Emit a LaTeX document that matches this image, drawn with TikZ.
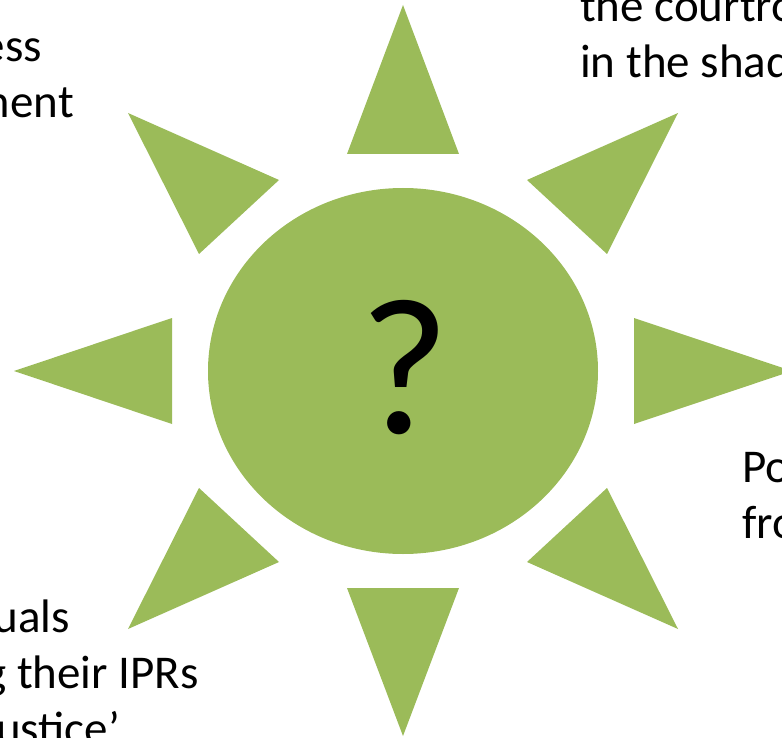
\documentclass[tikz,border=0pt]{standalone}
\usepackage{fontspec}
\setmainfont{Carlito}
\usetikzlibrary{shapes.geometric}
\definecolor{sungreen}{HTML}{9BBB59}
\begin{document}
\begin{tikzpicture}[x=1pt,y=-1pt,
  ray/.style={fill=sungreen,draw=none},
  lbl/.style={inner sep=0pt,font=\fontsize{47}{56}\selectfont,text=black},
  core/.style={ellipse,fill=sungreen,draw=none,minimum width=390pt,minimum height=366pt,inner sep=0pt}]
\useasboundingbox (0,0) rectangle (782,738);
\clip (0,0) rectangle (782,738);
% rays
\fill[ray] (403,5) -- (459,154) -- (347,154) -- cycle;
\fill[ray] (403,736) -- (459,588) -- (347,588) -- cycle;
\fill[ray] (14,371) -- (172,318) -- (172,424) -- cycle;
\fill[ray] (792,371) -- (634,318) -- (634,424) -- cycle;
\fill[ray] (128,113) -- (279,180) -- (199,254) -- cycle;
\fill[ray] (678,113) -- (527,180) -- (607,254) -- cycle;
\fill[ray] (128,629) -- (279,562) -- (199,488) -- cycle;
\fill[ray] (678,629) -- (527,562) -- (607,488) -- cycle;
% centre
\node[core] (sun) at (403,371) {};
\node[inner sep=0pt,anchor=base,font=\fontsize{195}{200}\selectfont] (q) at (405,433) {?};
% texts
\node[lbl,anchor=base east] (tl1) at (42,62) {ess};
\node[lbl,anchor=base east] (tl2) at (74,118) {ment};
\node[lbl,anchor=base west] (tr1) at (580,22) {the courtro};
\node[lbl,anchor=base west] (tr2) at (580,78) {in the shad};
\node[lbl,anchor=base west] (r1) at (742,482) {Po};
\node[lbl,anchor=base west] (r2) at (742,538) {fro};
\node[lbl,anchor=base east] (bl1) at (70,632) {uals};
\node[lbl,anchor=base east] (bl2) at (199,688) {g their IPRs};
\node[lbl,anchor=base east] (bl3) at (120,744) {ustice’};
\end{tikzpicture}
\end{document}
